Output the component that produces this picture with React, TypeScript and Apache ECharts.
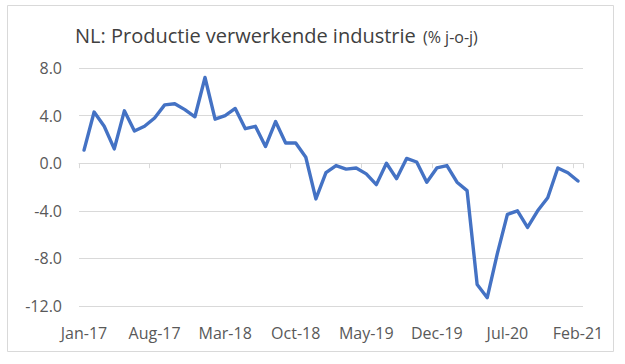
import React, { useEffect, useRef } from "react";
import * as echarts from "echarts";

const months = ["Jan", "Feb", "Mar", "Apr", "May", "Jun", "Jul", "Aug", "Sep", "Oct", "Nov", "Dec"];
const years = ["17", "18", "19", "20", "21"];
const categories: string[] = [];
for (const y of years) {
  for (const m of months) {
    categories.push(`${m}-${y}`);
  }
}
categories.splice(50);

const values = [
  1.1, 4.3, 3.1, 1.2, 4.4, 2.7, 3.1, 3.8, 4.9, 5.0,
  4.5, 3.9, 7.2, 3.7, 4.0, 4.6, 2.9, 3.1, 1.4, 3.5,
  1.7, 1.7, 0.5, -3.0, -0.8, -0.2, -0.5, -0.4, -0.9, -1.8,
  0.0, -1.3, 0.4, 0.1, -1.6, -0.4, -0.2, -1.6, -2.3, -10.2,
  -11.3, -7.6, -4.3, -4.0, -5.4, -4.0, -2.9, -0.4, -0.8, -1.5,
];

const yMin = -12;
const yMax = 8;
const yStep = 4;

const titleMain = "NL: Productie verwerkende industrie";
const titleSub = "(% j-o-j)";

export default function App() {
  const ref = useRef<HTMLDivElement>(null);
  useEffect(() => {
    if (!ref.current) return;
    const chart = echarts.init(ref.current, undefined, { renderer: "svg" });
    const font = "'Open Sans', sans-serif";
    chart.setOption({
      animation: false,
      backgroundColor: "#ffffff",
      grid: { left: 79, right: 42, top: 68, bottom: 58, containLabel: false, outerBoundsMode: "none" },
      graphic: [
        {
          type: "rect",
          shape: { x: 7.5, y: 5.5, width: 606, height: 346 },
          style: { fill: "none", stroke: "#D9D9D9", lineWidth: 1 },
          silent: true,
        },
        {
          type: "text",
          x: 75,
          y: 35.5,
          style: {
            text: titleMain,
            font: `20px ${font}`,
            fill: "#404040",
            verticalAlign: "middle",
            align: "left",
          },
        },
        {
          type: "text",
          x: 423,
          y: 36.5,
          style: {
            text: titleSub,
            font: `16px ${font}`,
            fill: "#404040",
            verticalAlign: "middle",
            align: "left",
          },
        },
      ],
      xAxis: {
        type: "category",
        data: categories,
        boundaryGap: true,
        axisLine: { show: true, onZero: true, lineStyle: { color: "#D9D9D9", width: 1 } },
        axisTick: { show: true, interval: 6, length: 5, lineStyle: { color: "#D9D9D9" } },
        axisLabel: {
          interval: 6,
          margin: 19,
          color: "#595959",
          fontSize: 16,
          fontFamily: font,
        },
        splitLine: { show: false },
      },
      yAxis: {
        type: "value",
        min: yMin,
        max: yMax,
        interval: yStep,
        axisLine: { show: false },
        axisTick: { show: false },
        axisLabel: {
          margin: 17,
          color: "#595959",
          fontSize: 16,
          fontFamily: font,
          formatter: (v: number) => v.toFixed(1),
        },
        splitLine: { lineStyle: { color: "#D9D9D9", width: 1 } },
      },
      series: [
        {
          type: "line",
          data: values,
          showSymbol: false,
          symbol: "none",
          lineStyle: { color: "#4472C4", width: 3.4, join: "round", cap: "round" },
          itemStyle: { color: "#4472C4" },
        },
      ],
    });
    return () => chart.dispose();
  }, []);
  return (
    <div
      ref={ref}
      style={{ position: "absolute", left: 0, top: 0, width: 625, height: 364 }}
    />
  );
}
